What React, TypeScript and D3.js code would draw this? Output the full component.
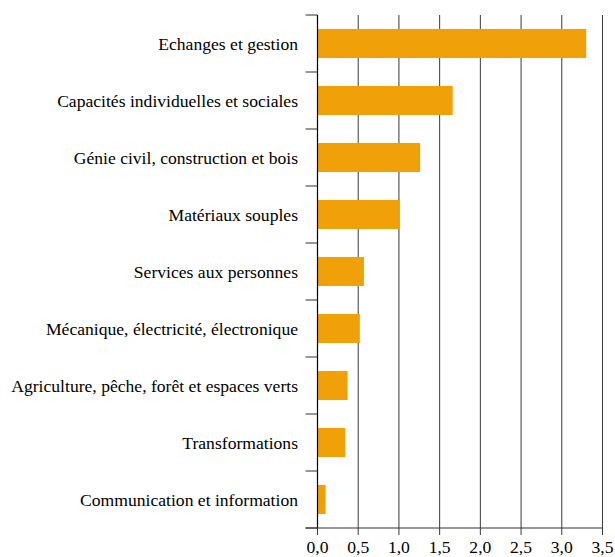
import React from "react";
import * as d3 from "d3";

const categories = [
  "Echanges et gestion",
  "Capacités individuelles et sociales",
  "Génie civil, construction et bois",
  "Matériaux souples",
  "Services aux personnes",
  "Mécanique, électricité, électronique",
  "Agriculture, pêche, forêt et espaces verts",
  "Transformations",
  "Communication et information",
];
const values = [3.3, 1.66, 1.26, 1.0, 0.57, 0.52, 0.37, 0.34, 0.1];
const xTicks = [0, 0.5, 1, 1.5, 2, 2.5, 3, 3.5];

const W = 615;
const H = 557;
const left = 317.5;
const right = 602.5;
const top = 15;
const bottom = 528;

export default function App() {
  const x = d3.scaleLinear().domain([0, 3.5]).range([left, right]);
  const y = d3.scaleBand<string>().domain(categories).range([top, bottom]).paddingInner(0.49).paddingOuter(0.245);
  const bandStep = (bottom - top) / categories.length;
  const fmt = (v: number) => v.toFixed(1).replace(".", ",");
  const textStyle = { fontFamily: "Liberation Serif", fontSize: "17.6px" };
  return (
    <svg width={W} height={H} style={{ position: "absolute", left: 0, top: 0 }}>
      <rect width={W} height={H} fill="#fff" />
      {xTicks.map((t) => (
        <line key={"g" + t} x1={x(t)} x2={x(t)} y1={top} y2={bottom + 7} stroke="#3a3a3a" strokeWidth={1} />
      ))}
      {values.map((v, i) => (
        <rect key={"b" + i} x={x(0)} y={y(categories[i])!} width={x(v) - x(0)} height={y.bandwidth()} fill="#F0A10A" />
      ))}
      <line x1={left} x2={left} y1={top} y2={bottom} stroke="#000" strokeWidth={1.2} />
      <line x1={left - 12} x2={right} y1={bottom} y2={bottom} stroke="#333" strokeWidth={1} />
      {d3.range(categories.length + 1).map((i) => (
        <line key={"t" + i} x1={left - 12} x2={left} y1={top + i * bandStep} y2={top + i * bandStep} stroke="#333" strokeWidth={1} />
      ))}
      {categories.map((c) => (
        <text key={c} x={298} y={y(c)! + y.bandwidth() / 2} dy="0.35em" textAnchor="end" style={textStyle} fill="#000">
          {c}
        </text>
      ))}
      {xTicks.map((t) => (
        <text key={"l" + t} x={x(t)} y={553} textAnchor="middle" style={textStyle} fill="#000">
          {fmt(t)}
        </text>
      ))}
    </svg>
  );
}
